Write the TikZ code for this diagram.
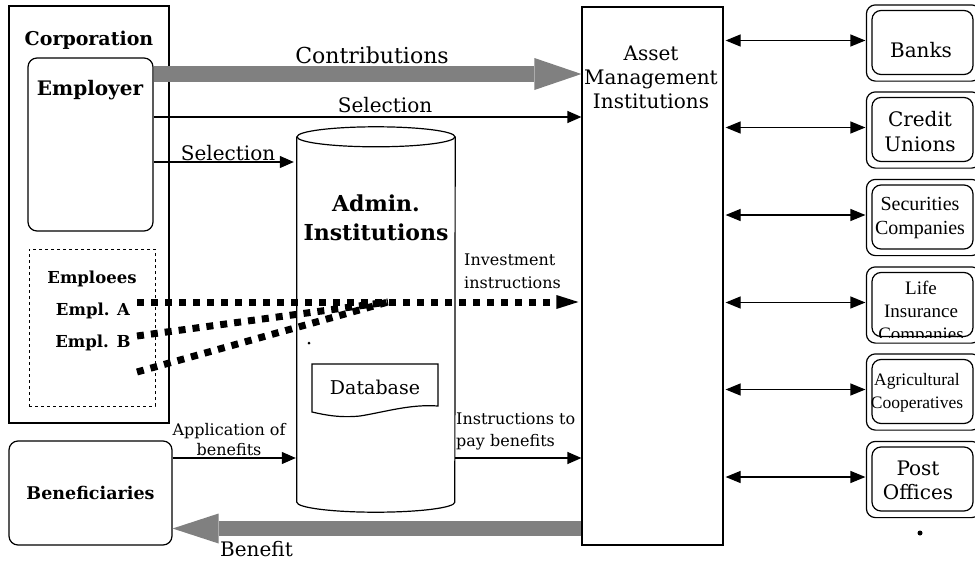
\documentclass[tikz,border=0pt]{standalone}
\usepackage{fontspec}
\setmainfont{DejaVu Serif}
\newfontfamily\tms{Liberation Serif}
\usetikzlibrary{arrows.meta,calc}
\newcommand{\fsz}[2]{\fontsize{#1}{#2}\selectfont}
\definecolor{arrowgray}{RGB}{128,128,128}
\begin{document}
\begin{tikzpicture}[x=1pt,y=-1pt,
  plainbox/.style={draw, line width=1.2pt, inner sep=0pt},
  roundbox/.style={plainbox, rounded corners=9pt},
  inst/.style={roundbox, minimum width=101pt, minimum height=64pt},
  sarrow/.style={line width=1.2pt, -{Triangle[length=14pt,width=12pt]}},
  darrow/.style={line width=1.2pt, {Triangle[length=15pt,width=12pt]}-{Triangle[length=15pt,width=12pt]}},
  bigarrow/.style={draw=arrowgray, line width=16pt, -{Triangle[length=47pt,width=32pt,line width=0pt]}},
  dotline/.style={line width=7pt, dash pattern=on 7pt off 7pt},
  txt/.style={inner sep=0pt, align=center},
]
\useasboundingbox (0,0) rectangle (975,562);

% left side
\node[plainbox, minimum width=160pt, minimum height=417pt] (corp) at (89,214.5) {};
\node[txt, font=\bfseries\fsz{19}{23}] (corplabel) at (89,40) {Corporation};
\node[roundbox, minimum width=125pt, minimum height=173pt] (employer) at (90.5,144.5) {};
\node[txt, font=\bfseries\fsz{20}{24}] (emplabel) at (90,90) {Employer};
\node[plainbox, dashed, line width=0.9pt, minimum width=126pt, minimum height=157pt] (employees) at (92,327.5) {};
\node[txt, font=\bfseries\fsz{16.5}{20}] (emplo) at (92,279) {Emploees};
\node[txt, font=\bfseries\fsz{16.5}{20}] (empla) at (93,311) {Empl. A};
\node[txt, font=\bfseries\fsz{16.5}{20}] (emplb) at (93,343) {Empl. B};
\node[roundbox, minimum width=163pt, minimum height=104pt, font=\bfseries\fsz{17.5}{20}] (benef) at (90.5,493) {Beneficiaries};

% admin cylinder
\node[inner sep=0pt, minimum width=158pt, minimum height=365pt] (admin) at (376,319.5) {};
\draw[line width=1.2pt] (admin.north west) -- (admin.south west)
  arc[start angle=180, end angle=360, x radius=79pt, y radius=10pt] -- (admin.north east);
\draw[line width=1.2pt] (admin.north) ellipse [x radius=79pt, y radius=10pt];
\node[txt, font=\bfseries\fsz{22}{29}] (adminlabel) at (376,217.5) {Admin.\\Institutions};
\fill (309,343) circle [radius=1.5pt];
\draw[line width=1.2pt] (312,364) -- (438,364) -- (438,406)
  .. controls (410,404) and (385,412) .. (360,416)
  .. controls (340,418) and (325,415) .. (312,412) -- cycle;
\node[txt, font=\fsz{19}{23}] (db) at (375,387) {Database};

% asset management
\node[plainbox, minimum width=141pt, minimum height=538pt] (ami) at (652.5,276) {};
\node[txt, font=\fsz{20}{24}] (amilabel) at (651,77) {Asset\\Management\\Institutions};

% arrows top
\draw[bigarrow] (employer.east |- 0,74) -- (ami.west |- 0,74);
\node[txt, font=\fsz{22}{26}] (contrib) at (372,55) {Contributions};
\draw[sarrow] (employer.east |- 0,117) -- (ami.west |- 0,117);
\node[txt, font=\fsz{20}{24}] (sel1) at (385,105) {Selection};
\draw[sarrow] (employer.east |- 0,162) -- ([xshift=-3pt]admin.west |- 0,162);
\node[txt, font=\fsz{20}{24}] (sel2) at (228,153) {Selection};

% dotted lines
\coordinate (ea) at (137,302);
\coordinate (eb) at (137,336);
\coordinate (ec) at (137,372);
\coordinate (merge) at (388,302);
\draw[dotline, -{Triangle[length=22pt,width=14pt,line width=0pt]}] (ea) -- ([xshift=-3pt]ami.west |- 0,302);
\draw[dotline] (eb) -- (merge);
\draw[dotline] (ec) -- (merge);
\node[txt, anchor=west, align=left, font=\fsz{16}{23}] (invest) at (464,271.5) {Investment\\instructions};

% lower arrows
\draw[sarrow] (benef.east |- 0,458) -- ([xshift=-1pt]admin.west |- 0,458);
\node[txt, font=\fsz{16}{20}] (appl) at (229,440) {Application of\\benefits};
\draw[sarrow] (admin.east |- 0,458) -- (ami.west |- 0,458);
\node[txt, anchor=west, align=left, font=\fsz{16}{22}] (instr) at (456,431) {Instructions to\\pay benefits};
\draw[draw=arrowgray, line width=15pt, -{Triangle[length=46pt,width=30pt,line width=0pt]}] (ami.west |- 0,528.5) -- (benef.east |- 0,528.5);
\node[txt, anchor=west, font=\fsz{20}{24}] (benefit) at (220,549) {Benefit};

% right institutions
\foreach \n/\y in {banks/42.5, credit/129.5, secur/217, life/304.5, agri/391.5, post/479}{
  \node[inst] (\n) at (922.5,\y) {};
  \draw[line width=1.2pt, rounded corners=9pt] ($(\n.north west)+(-5,-5)$) rectangle ($(\n.south east)+(7,6)$);
  \draw[darrow] ([xshift=2pt]ami.east |- 0,\y-2) -- ([xshift=-6pt]\n.west |- 0,\y-2);
}
\node[txt, font=\fsz{20}{24}] (bankst) at (921,50) {Banks};
\node[txt, font=\fsz{20}{25}] (creditt) at (920,132) {Credit\\Unions};
\node[txt, font=\tms\fsz{20}{24}] (secturt) at (920,218) {Securities\\Companies};
\begin{scope}
  \clip (life.north west) rectangle (life.south east);
  \node[txt, font=\tms\fsz{19}{23}] (lifet) at (921,313) {Life\\Insurance\\Companies};
\end{scope}
\node[txt, font=\tms\fsz{17.5}{23}] (agrit) at (917,392.5) {Agricultural\\Cooperatives};
\node[txt, font=\fsz{20}{24}] (postt) at (918,480) {Post\\Offices};
\fill (920,533) circle [radius=2.5pt];
\end{tikzpicture}
\end{document}
